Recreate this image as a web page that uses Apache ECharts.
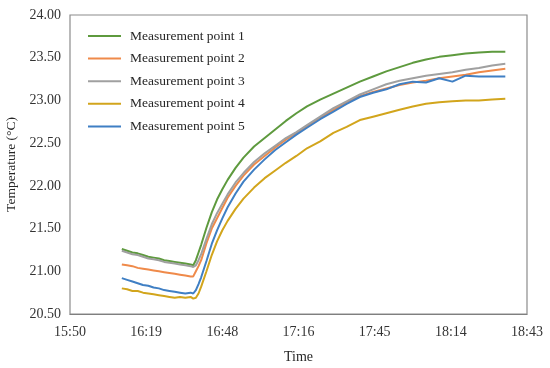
<!DOCTYPE html>
<html>
<head>
<meta charset="utf-8">
<script src="https://cdn.jsdelivr.net/npm/echarts@6/dist/echarts.min.js"></script>
<style>html,body{margin:0;padding:0;background:#fff}#c{width:550px;height:368px}</style>
</head>
<body>
<div id="c"></div>
<script>
var times = ['16:10','16:12','16:14','16:16','16:18','16:20','16:22','16:24','16:26','16:28','16:30','16:32','16:34','16:36','16:37','16:38','16:39','16:40','16:42','16:44','16:46','16:48','16:50','16:53','16:56','17:00','17:04','17:08','17:12','17:16','17:20','17:25','17:30','17:35','17:40','17:45','17:50','17:55','18:00','18:05','18:10','18:15','18:20','18:25','18:30','18:35'];
var seriesNames = ['Measurement point 1','Measurement point 2','Measurement point 3','Measurement point 4','Measurement point 5'];
var mp1 = [21.26,21.24,21.22,21.21,21.19,21.17,21.16,21.15,21.13,21.12,21.11,21.10,21.09,21.08,21.07,21.13,21.22,21.31,21.51,21.69,21.84,21.96,22.07,22.21,22.33,22.46,22.56,22.66,22.76,22.85,22.93,23.01,23.08,23.15,23.22,23.28,23.34,23.39,23.44,23.48,23.51,23.53,23.55,23.56,23.57,23.57];
var mp2 = [21.08,21.07,21.06,21.04,21.03,21.02,21.01,21.00,20.99,20.98,20.97,20.96,20.95,20.94,20.94,21.00,21.06,21.13,21.33,21.50,21.62,21.74,21.86,22.00,22.12,22.25,22.35,22.45,22.54,22.62,22.70,22.80,22.89,22.98,23.05,23.10,23.14,23.18,23.21,23.23,23.26,23.28,23.30,23.33,23.35,23.37];
var mp3 = [21.24,21.22,21.20,21.19,21.17,21.15,21.14,21.13,21.11,21.10,21.09,21.08,21.07,21.06,21.05,21.07,21.13,21.20,21.38,21.55,21.68,21.79,21.90,22.04,22.15,22.28,22.38,22.47,22.56,22.63,22.71,22.81,22.91,22.99,23.07,23.13,23.19,23.23,23.26,23.29,23.31,23.33,23.36,23.38,23.41,23.43];
var mp4 = [20.80,20.79,20.77,20.77,20.75,20.74,20.73,20.72,20.71,20.70,20.69,20.70,20.69,20.70,20.68,20.69,20.74,20.82,21.00,21.19,21.35,21.48,21.59,21.73,21.85,21.98,22.09,22.18,22.27,22.35,22.44,22.52,22.62,22.69,22.77,22.81,22.85,22.89,22.93,22.96,22.98,22.99,23.00,23.00,23.01,23.02];
var mp5 = [20.92,20.90,20.88,20.86,20.84,20.83,20.81,20.80,20.78,20.77,20.76,20.75,20.74,20.75,20.74,20.78,20.85,20.93,21.12,21.32,21.48,21.62,21.75,21.91,22.05,22.19,22.31,22.42,22.51,22.60,22.68,22.78,22.87,22.96,23.04,23.09,23.13,23.19,23.22,23.21,23.26,23.22,23.29,23.28,23.28,23.28];
var yTicks = ['20.50','21.00','21.50','22.00','22.50','23.00','23.50','24.00'];
var xTicks = ['15:50','16:19','16:48','17:16','17:45','18:14','18:43'];

var colors = ['#5e9a3e','#ef8a4a','#a0a0a0','#d2a51c','#3f7fc4'];
function toSec(s){var p=s.split(':');return (+p[0])*3600+(+p[1])*60;}
function fmt(sec){var m=Math.floor(sec/60+1e-6);var h=Math.floor(m/60);var mm=m%60;return h+':'+(mm<10?'0':'')+mm;}
var all = [mp1,mp2,mp3,mp4,mp5];
var font = '"Liberation Serif","Times New Roman",serif';
var chart = echarts.init(document.getElementById('c'));
chart.setOption({
  animation:false,
  color:colors,
  textStyle:{fontFamily:font},
  grid:{left:70,right:23,top:15,bottom:54,show:true,borderColor:'#8c8c8c',borderWidth:1.2,backgroundColor:'transparent',outerBoundsMode:'none',containLabel:false},
  legend:{
    data:seriesNames.map(function(n){return {name:n,icon:'rect'};}),
    orient:'vertical',left:83,top:24,itemWidth:33,itemHeight:2,itemGap:8.6,
    textStyle:{fontFamily:font,fontSize:13.5,lineHeight:14,color:'#262626',padding:[0,0,0,4]}
  },
  xAxis:{
    type:'value',min:toSec('15:50')+24,max:toSec('18:43')+12,interval:1728,
    name:'Time',nameLocation:'middle',nameGap:36,
    nameTextStyle:{fontFamily:font,fontSize:14,color:'#262626'},
    axisLine:{show:true,lineStyle:{color:'#7f7f7f',width:1.2}},axisTick:{show:false},splitLine:{show:false},
    axisLabel:{fontFamily:font,fontSize:14,color:'#333',margin:11,formatter:function(v){return fmt(v);},showMinLabel:true,showMaxLabel:true}
  },
  yAxis:{
    type:'value',min:+yTicks[0],max:+yTicks[yTicks.length-1],interval:0.5,
    name:'Temperature (°C)',nameLocation:'middle',nameGap:52,
    nameTextStyle:{fontFamily:font,fontSize:13.5,color:'#262626'},
    axisLine:{show:false},axisTick:{show:false},splitLine:{show:false},
    axisLabel:{fontFamily:font,fontSize:14,color:'#333',margin:9,formatter:function(v){return v.toFixed(2);}}
  },
  series:all.map(function(arr,i){
    return {name:seriesNames[i],type:'line',symbol:'none',lineStyle:{width:2,color:colors[i]},itemStyle:{color:colors[i]},
      data:times.map(function(t,j){return [toSec(t),arr[j]];})};
  })
});
</script>
</body>
</html>
